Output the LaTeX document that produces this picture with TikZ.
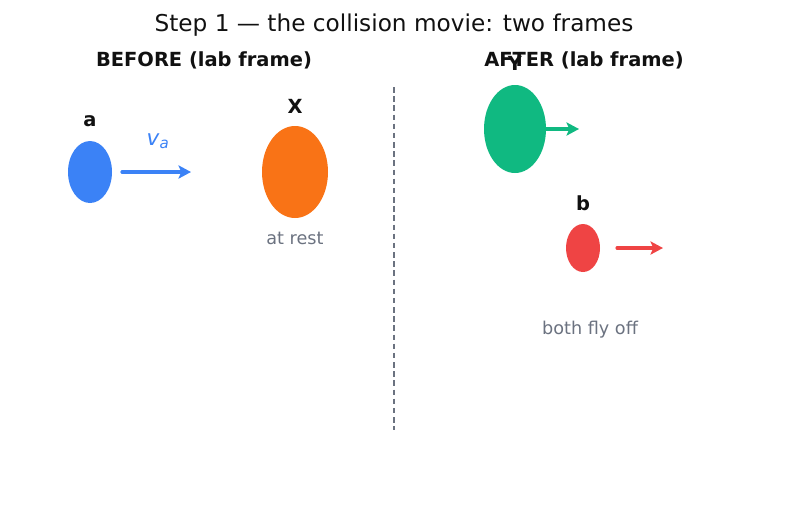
\documentclass[tikz,border=0pt]{standalone}
\usepackage{fontspec}
\setmainfont{DejaVu Sans}
\usetikzlibrary{arrows.meta, positioning, calc, shapes.geometric}
\definecolor{BallBlue}{HTML}{3B82F6}
\definecolor{BallOrange}{HTML}{F97316}
\definecolor{BallGreen}{HTML}{10B981}
\definecolor{BallRed}{HTML}{EF4444}
\definecolor{NoteGray}{HTML}{6B7280}
\definecolor{InkDark}{HTML}{111111}

\begin{document}
\begin{tikzpicture}[
    x=0.72pt, y=-0.72pt,
    ball/.style n args={3}{ellipse, fill=#1, draw=none, inner sep=0pt,
        minimum width=#2*0.72pt, minimum height=#3*0.72pt},
    tag/.style={text=InkDark, font=\fontsize{14}{16}\selectfont\bfseries},
    head/.style={text=InkDark, font=\fontsize{14}{16}\selectfont\bfseries},
    note/.style={text=NoteGray, font=\fontsize{12.7}{15}\selectfont},
    move/.style={-{Stealth[length=9pt, width=9.5pt, inset=2pt]}, line width=2.3pt, line cap=round, draw=#1},
]
\useasboundingbox (0,0) rectangle (787,510);

% --- titulo y cabeceras ---
\node[text=InkDark, font=\fontsize{16.7}{19}\selectfont] (title) at (394,25)
    {Step 1 — the collision movie: two frames};
\node[head] (before) at (204,60) {BEFORE (lab frame)};
\node[head] (after) at (584,60) {AFTER (lab frame)};

% --- separador ---
\coordinate (sepT) at (394,87);
\coordinate (sepB) at (394,430);
\draw[NoteGray, dash pattern=on 4pt off 2.6pt, line width=1.1pt] (sepT) -- (sepB);

% ================= ANTES =================
\node[ball={BallBlue}{44}{62}] (a) at (90,172) {};
\node[tag] (la) at (90,121) {a};
\coordinate (a0) at (122,172);
\coordinate (a1) at (191,172);
\draw[move=BallBlue] (a0) -- (a1);
\node[text=BallBlue, font=\fontsize{15.5}{17}\selectfont] (va) at (158,141) {\textit{v}\textsubscript{\textit{a}}};

\node[ball={BallOrange}{66}{92}] (X) at (295,172) {};
\node[tag] (lX) at (295,106) {X};
\node[note] (rest) at (295,238) {at rest};

% ================= DESPUES =================
\node[ball={BallGreen}{62}{88}] (Y) at (515,129) {};
\node[tag] (lY) at (515,63) {Y};
\coordinate (y1) at (579,129);
\draw[move=BallGreen] (Y.east) -- (y1);

\node[ball={BallRed}{34}{48}] (b) at (583,248) {};
\node[tag] (lb) at (583,203) {b};
\coordinate (b0) at (617,248);
\coordinate (b1) at (663,248);
\draw[move=BallRed] (b0) -- (b1);

\node[note] (fly) at (590,330) {both fly off};

\end{tikzpicture}
\end{document}
